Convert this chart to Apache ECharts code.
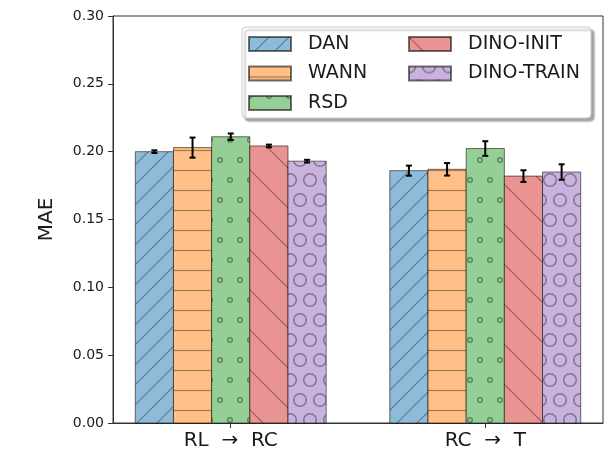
<!DOCTYPE html>
<html>
<head>
<meta charset="utf-8">
<script src="https://cdn.jsdelivr.net/npm/echarts@6/dist/echarts.min.js"></script>
<style>
  html, body { margin: 0; padding: 0; background: #fff; }
  #chart { width: 608px; height: 456px; }
</style>
</head>
<body>
<div id="chart"></div>
<script>
var categories = ['RL  \u2192  RC', 'RC  \u2192  T'];
var methods = ['DAN', 'WANN', 'RSD', 'DINO-INIT', 'DINO-TRAIN'];

var danMae = [0.200, 0.186];
var danErr = [0.001, 0.0037];
var wannMae = [0.203, 0.187];
var wannErr = [0.0074, 0.0046];
var rsdMae = [0.211, 0.2023];
var rsdErr = [0.0024, 0.0054];
var dinoInitMae = [0.2042, 0.182];
var dinoInitErr = [0.001, 0.0043];
var dinoTrainMae = [0.193, 0.185];
var dinoTrainErr = [0.001, 0.0057];

var FONT = 'DejaVu Sans';
var BAR_W = 0.15;
var EDGE = 'rgba(0,0,0,0.55)';
var HATCH = 'rgba(0,0,0,0.36)';

// hatch tiles, drawn once on small canvases
function tile(w, h, bg, draw) {
    var c = document.createElement('canvas');
    c.width = w; c.height = h;
    var ctx = c.getContext('2d');
    ctx.fillStyle = bg;
    ctx.fillRect(0, 0, w, h);
    ctx.strokeStyle = HATCH;
    ctx.lineWidth = 1.2;
    draw(ctx, w, h);
    return { image: c, repeat: 'repeat' };
}
function slash(s) {
    return function (ctx) {
        ctx.beginPath();
        for (var n = 0; n <= 2; n++) { ctx.moveTo(n * s, 0); ctx.lineTo(n * s - s, s); }
        ctx.stroke();
    };
}
function backslash(s) {
    return function (ctx) {
        ctx.beginPath();
        for (var n = -1; n <= 1; n++) { ctx.moveTo(n * s, 0); ctx.lineTo(n * s + s, s); }
        ctx.stroke();
    };
}
function circles(r, lw) {
    return function (ctx) {
        ctx.lineWidth = lw;
        var pts = [[0, 0], [20, 0], [0, 40], [20, 40], [10, 20]];
        pts.forEach(function (p) {
            ctx.beginPath();
            ctx.arc(p[0], p[1], r, 0, Math.PI * 2);
            ctx.stroke();
        });
    };
}

var patterns = [
    tile(20, 20, 'rgb(143,187,218)', slash(20)),
    tile(20, 20, 'rgb(255,191,134)', function (ctx) {
        ctx.beginPath(); ctx.moveTo(0, 10.5); ctx.lineTo(20, 10.5); ctx.stroke();
    }),
    tile(20, 40, 'rgb(149,207,149)', circles(2.3, 1.5)),
    tile(40, 40, 'rgb(234,147,147)', backslash(40)),
    tile(20, 40, 'rgb(201,179,222)', circles(6.3, 1.5))
];

var maes = [danMae, wannMae, rsdMae, dinoInitMae, dinoTrainMae];
var errs = [danErr, wannErr, rsdErr, dinoInitErr, dinoTrainErr];

function renderBar(params, api) {
    var si = params.seriesIndex;
    var c = api.value(0) + (si - 2) * BAR_W;
    var v = api.value(1);
    var e = api.value(2);
    var tl = api.coord([c - BAR_W / 2, v]);
    var br = api.coord([c + BAR_W / 2, 0]);
    var hi = api.coord([c, v + e]);
    var lo = api.coord([c, v - e]);
    var cap = 3;
    return {
        type: 'group',
        children: [
            {
                type: 'rect',
                shape: { x: tl[0], y: tl[1], width: br[0] - tl[0], height: br[1] - tl[1] },
                style: { fill: patterns[si], stroke: EDGE, lineWidth: 1 }
            },
            { type: 'line', shape: { x1: hi[0], y1: hi[1], x2: lo[0], y2: lo[1] }, style: { stroke: '#000', lineWidth: 2 } },
            { type: 'line', shape: { x1: hi[0] - cap, y1: hi[1], x2: hi[0] + cap, y2: hi[1] }, style: { stroke: '#000', lineWidth: 2 } },
            { type: 'line', shape: { x1: lo[0] - cap, y1: lo[1], x2: lo[0] + cap, y2: lo[1] }, style: { stroke: '#000', lineWidth: 2 } }
        ]
    };
}

var series = methods.map(function (name, i) {
    return {
        name: name,
        type: 'custom',
        renderItem: renderBar,
        encode: { x: 0, y: 1 },
        itemStyle: { color: patterns[i], borderColor: EDGE, borderWidth: 1 },
        data: categories.map(function (c, k) { return [k, maes[i][k], errs[i][k]]; })
    };
});

var legendBase = {
    orient: 'vertical',
    icon: 'rect',
    itemWidth: 42,
    itemHeight: 14,
    itemGap: 9.5,
    top: 29,
    z: 5,
    textStyle: { fontFamily: FONT, fontSize: 19, color: '#1a1a1a', lineHeight: 20, padding: [0, 0, 0, 12] }
};

var chart = echarts.init(document.getElementById('chart'));
chart.setOption({
    animation: false,
    grid: { left: 113, right: 5, top: 16, bottom: 33, show: true, borderColor: '#333', borderWidth: 1 },
    legend: [
        Object.assign({}, legendBase, { left: 243, data: methods.slice(0, 3) }),
        Object.assign({}, legendBase, { left: 403, data: methods.slice(3) })
    ],
    graphic: [{
        type: 'rect',
        z: 3,
        shape: { x: 242, y: 27, width: 349, height: 91, r: 4 },
        style: { fill: '#fff', stroke: '#ccc', lineWidth: 1, shadowColor: 'rgba(0,0,0,0.35)', shadowOffsetX: 3, shadowOffsetY: 3, shadowBlur: 2 }
    }],
    xAxis: {
        type: 'value',
        min: -0.4625,
        max: 1.4625,
        splitLine: { show: false },
        axisLine: { onZero: false, lineStyle: { color: '#333' } },
        axisTick: { show: true, customValues: [0, 1], length: 5, lineStyle: { color: '#333' } },
        axisLabel: {
            customValues: [0, 1],
            formatter: function (v) { return categories[Math.round(v)]; },
            fontFamily: FONT, fontSize: 20, color: '#1a1a1a', margin: 8
        }
    },
    yAxis: {
        type: 'value',
        min: 0,
        max: 0.3,
        interval: 0.05,
        name: 'MAE',
        nameLocation: 'middle',
        nameGap: 56,
        nameTextStyle: { fontFamily: FONT, fontSize: 20, color: '#1a1a1a' },
        splitLine: { show: false },
        axisLine: { show: true, onZero: false, lineStyle: { color: '#333' } },
        axisTick: { show: true, length: 5, lineStyle: { color: '#333' } },
        axisLabel: {
            fontFamily: FONT, fontSize: 14, color: '#1a1a1a', margin: 9,
            formatter: function (v) { return v.toFixed(2); }
        }
    },
    series: series
});
</script>
</body>
</html>
